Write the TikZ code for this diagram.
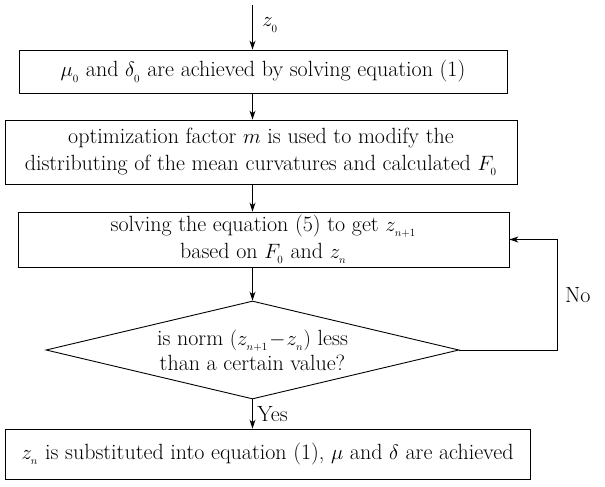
\documentclass[tikz,border=0pt]{standalone}
\usepackage{amsmath}
\usetikzlibrary{shapes.geometric,arrows.meta}

\begin{document}
\begin{tikzpicture}[x=1pt, y=-1pt, line width=0.9pt,
    every node/.style={font=\fontsize{22}{27}\selectfont},
    stepbox/.style={draw, rectangle, inner sep=0pt, align=center},
    testbox/.style={draw, diamond, inner sep=-8pt, aspect=4.2, align=center,
                    minimum width=413pt, minimum height=98pt},
    flow/.style={-{Stealth[length=9pt,width=6pt]}}]
    \useasboundingbox (0,0) rectangle (605,487);

    \coordinate (start) at (252.5,5);

    \node[stepbox, minimum width=488pt, minimum height=43pt] (solve0) at (263,71.5)
        {$\mu_{_0}$ and $\delta_{_0}$ are achieved by solving equation (1)};
    \node[stepbox, minimum width=512pt, minimum height=64pt] (optim) at (261,152)
        {optimization factor $m$ is used to modify the\\
         distributing of the mean curvatures and calculated $F_{_0}$};
    \node[stepbox, minimum width=491pt, minimum height=55pt] (iter) at (263.5,239.5)
        {solving the equation (5) to get $z_{_{n+1}}$\\
         based on $F_{_0}$ and $z_{_n}$};
    \node[testbox, font=\fontsize{22}{25}\selectfont] (check) at (252.5,350)
        {is norm $(z_{_{n+1}}\!-\!z_{_n})$ less\\ than a certain value?};
    \node[stepbox, minimum width=525pt, minimum height=50pt] (result) at (267.5,454)
        {$z_{_n}$ is substituted into equation (1), $\mu$ and $\delta$ are achieved};

    % arrows
    \draw[flow] (start) -- (start |- solve0.north) node[pos=0.45, right=6pt] {$z_{_0}$};
    \draw[flow] (solve0.south -| start) -- (optim.north -| start);
    \draw[flow] (optim.south -| start) -- (iter.north -| start);
    \draw[flow] (iter.south -| start) -- (check.north);
    \draw[flow] (check.south) -- (result.north -| check.south) node[midway, right=1pt] {Yes};

    % loop back
    \draw[flow] (check.east) -- ++(98,0) |- (iter.east) node[pos=0.25, right=4pt] {No};
\end{tikzpicture}
\end{document}
